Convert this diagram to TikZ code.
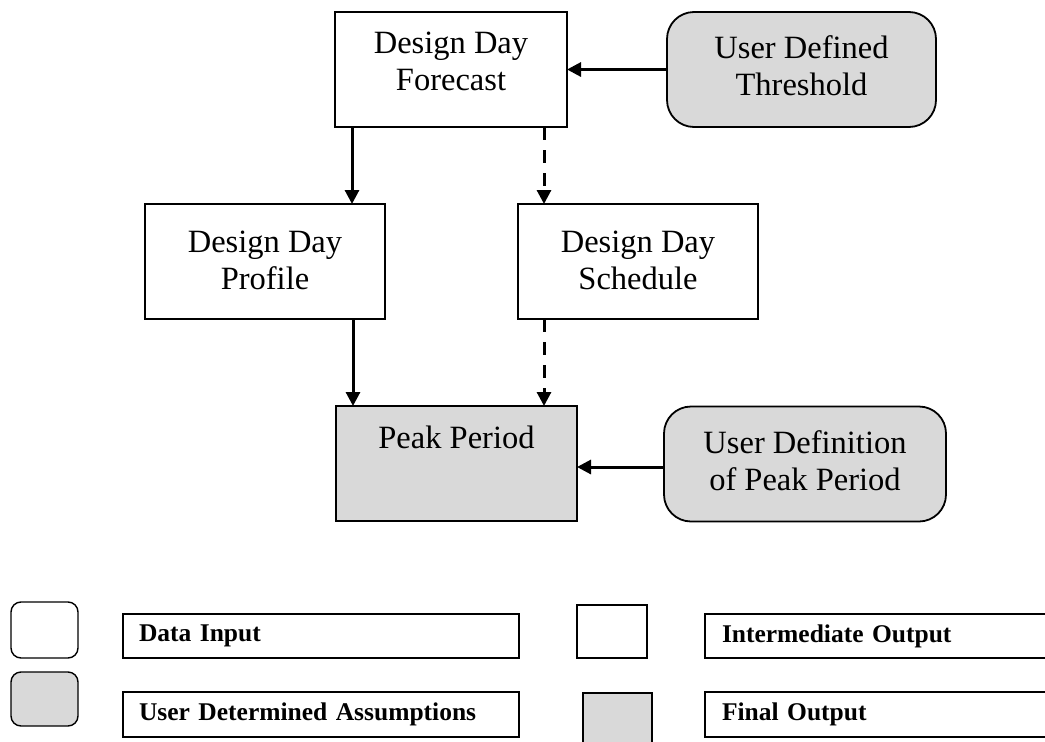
\documentclass[tikz,border=0pt]{standalone}
\usepackage{fontspec}
\setmainfont{Liberation Serif}
\usetikzlibrary{arrows.meta}
\definecolor{boxgray}{RGB}{217,217,217}
\begin{document}
\begin{tikzpicture}[x=1pt,y=-1pt,
  every node/.style={inner sep=0pt, outer sep=0pt},
  mtext/.style={font=\fontsize{32.5}{37}\selectfont, align=center, anchor=center},
  mainbox/.style={draw, line width=1.8pt},
  inbox/.style={mainbox, fill=boxgray, rounded corners=27pt},
  finalbox/.style={mainbox, fill=boxgray},
  flow/.style={line width=3pt, -{Triangle[length=14pt,width=14pt]}},
  dflow/.style={flow, dash pattern=on 13pt off 10pt},
  legbox/.style={draw, line width=1.4pt},
  legtext/.style={draw, line width=1.4pt, align=left, font=\bfseries\fontsize{25.5}{28}\selectfont}
]
\clip (0,0) rectangle (1045,742);
\useasboundingbox (0,0) rectangle (1045,742);

% main nodes
\node[mainbox, minimum width=232, minimum height=115,
      label={[mtext, yshift=8.5pt]center:{Design Day\\Forecast}}] (fc) at (451,69.5) {};
\node[inbox, minimum width=269, minimum height=115,
      label={[mtext, yshift=4pt]center:{User Defined\\Threshold}}] (thr) at (801.5,69.5) {};
\node[mainbox, minimum width=240, minimum height=115,
      label={[mtext, yshift=0.7pt]center:{Design Day\\Profile}}] (prof) at (265,261.5) {};
\node[mainbox, minimum width=240, minimum height=115,
      label={[mtext, yshift=0.7pt]center:{Design Day\\Schedule}}] (sched) at (638,261.5) {};
\node[finalbox, minimum width=241, minimum height=115,
      label={[mtext, anchor=base, yshift=-42.3pt]north:Peak Period}] (peak) at (456.5,463.5) {};
\node[inbox, minimum width=282, minimum height=115,
      label={[mtext, yshift=3.5pt]center:{User Definition\\of Peak Period}}] (ud) at (805,464) {};

% connectors
\draw[flow] (thr.west) -- (fc.east);
\draw[flow] ([xshift=17pt]fc.south west) -- ([xshift=17pt]fc.south west |- prof.north);
\draw[dflow] ([xshift=-23pt]fc.south east) -- ([xshift=-23pt]fc.south east |- sched.north);
\draw[flow] ([xshift=17pt]peak.north west |- prof.south) -- ([xshift=17pt]peak.north west);
\draw[dflow] ([xshift=-33pt]peak.north east |- sched.south) -- ([xshift=-33pt]peak.north east);
\draw[flow] ([yshift=-3pt]ud.west) -- ([yshift=-3pt]ud.west -| peak.east);

% legend
\node[legbox, rounded corners=10pt, minimum width=67, minimum height=56] (l1) at (44.5,630) {};
\node[legbox, rounded corners=10pt, fill=boxgray, minimum width=67, minimum height=54] (l2) at (44.5,699) {};
\node[legtext, inner xsep=16pt, text width=364, minimum height=44] (t1) at (321,636) {Data Input};
\node[legtext, inner xsep=16pt, text width=364, minimum height=45] (t2) at (321,714.5) {User Determined Assumptions};
\node[legbox, minimum width=70, minimum height=53] (s1) at (612,631.5) {};
\node[legbox, fill=boxgray, minimum width=69, minimum height=67] (s2) at (617.5,726.5) {};
\node[legtext, inner xsep=17pt, text width=326, minimum height=44] (t3) at (885,636) {Intermediate Output};
\node[legtext, inner xsep=17pt, text width=326, minimum height=45] (t4) at (885,714.5) {Final Output};
\end{tikzpicture}
\end{document}
